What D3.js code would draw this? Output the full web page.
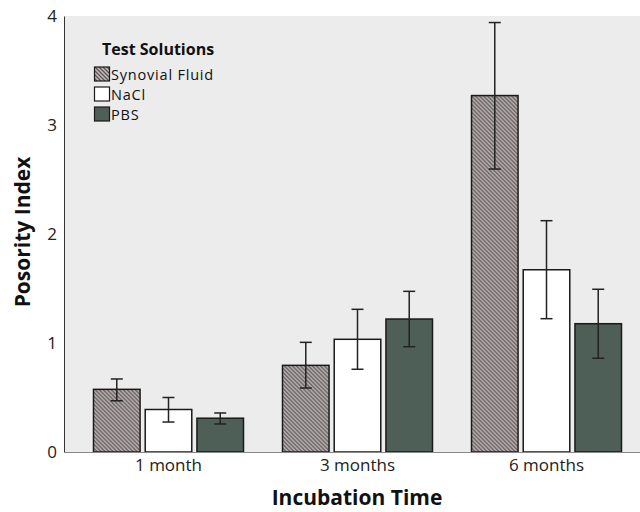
<!DOCTYPE html>
<html><head><meta charset="utf-8">
<script src="https://cdn.jsdelivr.net/npm/d3@7"></script>
<style>body{margin:0;background:#fff}svg{display:block}text{font-family:"Open Sans",sans-serif}</style>
</head><body><svg id="c" width="640" height="512"></svg>
<script>
const categories = ["1 month", "3 months", "6 months"];
const seriesNames = ["Synovial Fluid", "NaCl", "PBS"];
const synovial = [0.575, 0.795, 3.27];
const nacl = [0.39, 1.034, 1.672];
const pbs = [0.31, 1.22, 1.177];
const synovialLo = [0.47, 0.587, 2.596];
const synovialHi = [0.67, 1.006, 3.94];
const naclLo = [0.275, 0.759, 1.223];
const naclHi = [0.50, 1.309, 2.122];
const pbsLo = [0.257, 0.966, 0.86];
const pbsHi = [0.358, 1.474, 1.493];
const yTicks = [0, 1, 2, 3, 4];

const values = [synovial, nacl, pbs];
const lows = [synovialLo, naclLo, pbsLo];
const highs = [synovialHi, naclHi, pbsHi];
const fills = ["url(#hatch)", "#ffffff", "#4e5f58"];

const svg = d3.select("#c");
const defs = svg.append("defs");
const pat = defs.append("pattern").attr("id", "hatch").attr("patternUnits", "userSpaceOnUse")
  .attr("width", 4).attr("height", 4);
pat.append("rect").attr("width", 4).attr("height", 4).attr("fill", "#c4bcbc");
pat.append("path").attr("d", "M-1,-1 L5,5 M-1,3 L1,5 M3,-1 L5,1").attr("stroke", "#5a5555").attr("stroke-width", 1.3);

const plotLeft = 64, plotTop = 16, plotBottom = 452;
const y = d3.scaleLinear().domain([0, 4]).range([plotBottom, plotTop]);
const x = d3.scaleBand().domain(categories).range([74, 641]);
const inner = d3.scaleBand().domain(seriesNames).range([0, 150]).paddingInner(0.1);
const offset = (x.bandwidth() - 150) / 2;

svg.append("rect").attr("x", plotLeft).attr("y", plotTop).attr("width", 640 - plotLeft).attr("height", plotBottom - plotTop).attr("fill", "#ececec");

const groups = svg.selectAll("g.grp").data(categories).enter().append("g")
  .attr("transform", d => `translate(${x(d) + offset},0)`);

seriesNames.forEach((s, si) => {
  groups.append("rect")
    .attr("x", inner(s)).attr("width", inner.bandwidth())
    .attr("y", (d, i) => y(values[si][i]))
    .attr("height", (d, i) => plotBottom - y(values[si][i]))
    .attr("fill", fills[si]).attr("stroke", "#1a1a1a").attr("stroke-width", 1.5);
});
seriesNames.forEach((s, si) => {
  const cx = inner(s) + inner.bandwidth() / 2;
  const eb = groups.append("g").attr("stroke", "#222").attr("stroke-width", 1.5).attr("fill", "none");
  eb.append("line").attr("x1", cx).attr("x2", cx)
    .attr("y1", (d, i) => y(lows[si][i])).attr("y2", (d, i) => y(highs[si][i]));
  eb.append("line").attr("x1", cx - 6).attr("x2", cx + 6)
    .attr("y1", (d, i) => y(lows[si][i])).attr("y2", (d, i) => y(lows[si][i]));
  eb.append("line").attr("x1", cx - 6).attr("x2", cx + 6)
    .attr("y1", (d, i) => y(highs[si][i])).attr("y2", (d, i) => y(highs[si][i]));
});

// axes
const ya = svg.append("g").attr("transform", `translate(${plotLeft},0)`)
  .call(d3.axisLeft(y).tickValues(yTicks).tickFormat(d3.format("d")).tickSize(0).tickPadding(7));
ya.select(".domain").attr("stroke", "#333").attr("stroke-width", 1);
ya.selectAll("text").attr("font-size", 17).attr("fill", "#222").attr("font-family", "Open Sans");

const xa = svg.append("g").attr("transform", `translate(0,${plotBottom})`)
  .call(d3.axisBottom(x).tickSize(0).tickPadding(7));
xa.select(".domain").attr("d", `M${plotLeft},0.5H640`).attr("stroke", "#888");
xa.selectAll("text").attr("font-size", 17).attr("fill", "#222").attr("font-family", "Open Sans");

svg.append("text").attr("x", 357).attr("y", 505).attr("text-anchor", "middle")
  .attr("font-size", 21).attr("font-weight", "bold").attr("fill", "#111").text("Incubation Time");
svg.append("text").attr("transform", "translate(30,232) rotate(-90)").attr("text-anchor", "middle")
  .attr("font-size", 21).attr("font-weight", "bold").attr("fill", "#111").text("Posority Index");

// legend
const lg = svg.append("g");
lg.append("text").attr("x", 102).attr("y", 55).attr("font-size", 16).attr("font-weight", "bold").attr("fill", "#111").text("Test Solutions");
seriesNames.forEach((s, si) => {
  const yy = 67 + si * 20;
  lg.append("rect").attr("x", 94.5).attr("y", yy).attr("width", 15).attr("height", 14)
    .attr("fill", fills[si]).attr("stroke", "#1a1a1a").attr("stroke-width", 1.2);
  lg.append("text").attr("x", 111).attr("y", yy + 13).attr("font-size", 14.5)
    .attr("font-family", "DejaVu Sans").attr("letter-spacing", 0.8).attr("fill", "#111").text(s);
});
</script></body></html>
